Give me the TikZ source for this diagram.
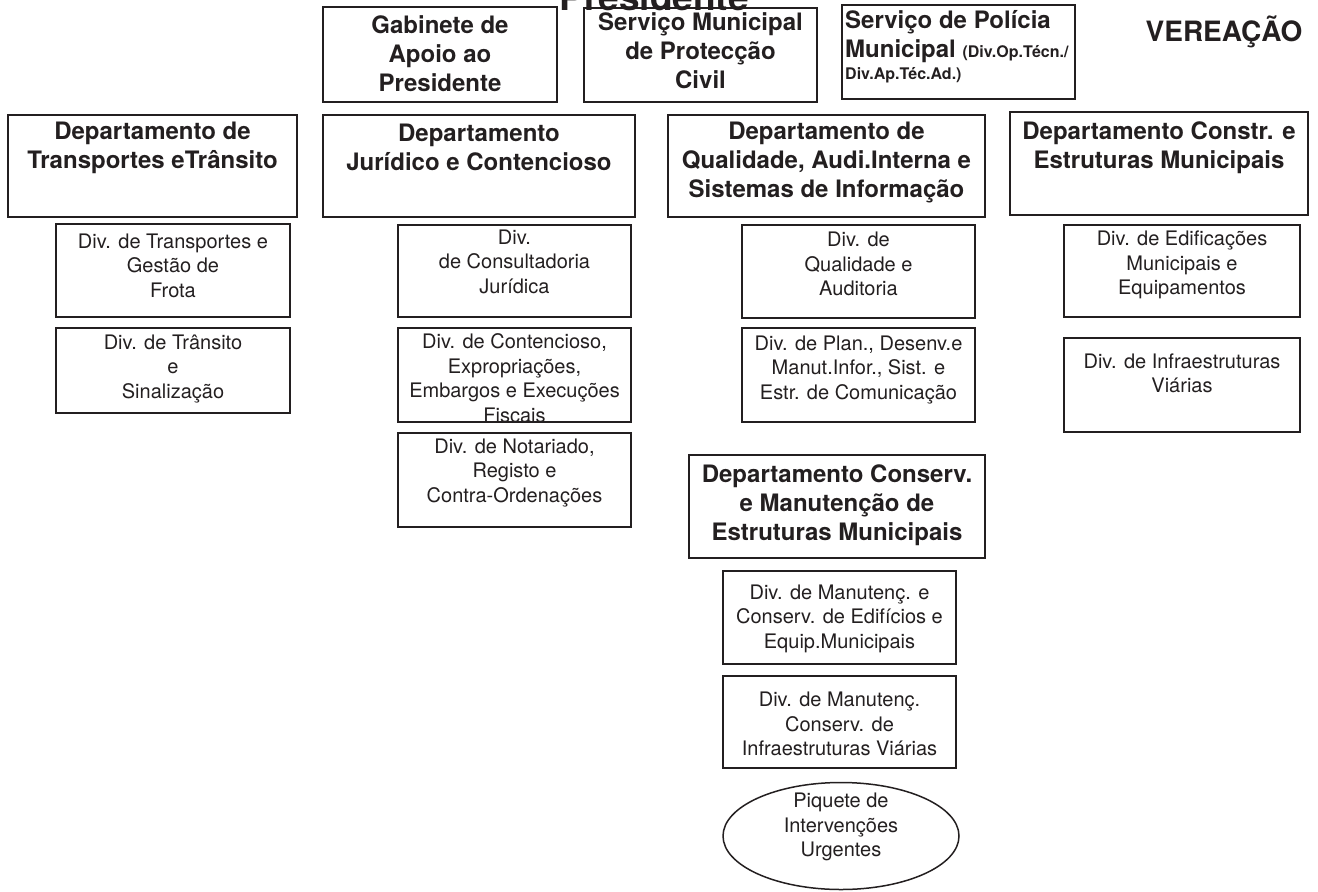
\documentclass[tikz,border=0pt]{standalone}
\usepackage{fontspec}
\setmainfont{TeX Gyre Heros}
\usetikzlibrary{shapes.geometric}

\definecolor{ink}{HTML}{231F20}

\tikzstyle{frame} = [draw, line width=1.8pt, inner sep=0pt]
\tikzstyle{divframe} = [draw, line width=1.5pt, inner sep=0pt]
\tikzstyle{head} = [font=\fontsize{24}{29}\selectfont\bfseries, align=center, inner sep=0pt]
\tikzstyle{divtext} = [font=\fontsize{20}{24.5}\selectfont, align=center, inner sep=0pt]

\begin{document}
\begin{tikzpicture}[x=1pt,y=-1pt,color=ink]
	\useasboundingbox (0,0) rectangle (1318,892);
	\node[font=\fontsize{37}{40}\selectfont\bfseries, anchor=base, inner sep=0pt] (pres) at (654,10) {Presidente};
	\node[font=\fontsize{28}{32}\selectfont\bfseries, inner sep=0pt] (ver) at (1224,32) {VEREAÇÃO};

	\node[frame, minimum width=234pt, minimum height=95pt] (gab) at (440,54.5) {};
	\node[head] (gab-t) at (440,54) {Gabinete de\\Apoio ao\\Presidente};
	\node[frame, minimum width=233pt, minimum height=94pt] (smpc) at (700.5,55) {};
	\node[head] (smpc-t) at (700.5,51) {Serviço Municipal\\de Protecção\\Civil};
	\node[frame, minimum width=233pt, minimum height=94pt] (pol) at (958.5,52) {};
	\node[head, align=left, anchor=north west] (pol-t) at (845,10) {Serviço de Polícia\\Municipal {\fontsize{16}{18}\selectfont(Div.Op.Técn./}\\[-7pt]{\fontsize{16}{18}\selectfont Div.Ap.Téc.Ad.)}};

	\node[frame, minimum width=289pt, minimum height=102pt] (dtt) at (152.5,166) {};
	\node[head] (dtt-t) at (152.5,147.5) {Departamento de\\Transportes eTrânsito};
	\node[frame, minimum width=312pt, minimum height=102pt] (djc) at (479,166) {};
	\node[head] (djc-t) at (479,147.5) {Departamento\\Jurídico e Contencioso};
	\node[frame, minimum width=317pt, minimum height=102pt] (dq) at (826.5,166) {};
	\node[head] (dq-t) at (826.5,162.5) {Departamento de\\Qualidade, Audi.Interna e\\Sistemas de Informação};
	\node[frame, minimum width=298pt, minimum height=103pt] (dc) at (1159,163.5) {};
	\node[head] (dc-t) at (1159,147.5) {Departamento Constr. e\\Estruturas Municipais};

	\node[divframe, minimum width=234pt, minimum height=93pt] (transp) at (173,270.5) {};
	\node[divtext] (transp-t) at (173,265.5) {Div. de Transportes e\\Gestão de\\Frota};
	\node[divframe, minimum width=234pt, minimum height=85pt] (transito) at (173,370.5) {};
	\node[divtext] (transito-t) at (173,368.5) {Div. de Trânsito\\e\\Sinalização};

	\node[divframe, minimum width=233pt, minimum height=92pt] (consult) at (514.5,271) {};
	\node[divtext] (consult-t) at (514.5,261.5) {Div.\\de Consultadoria\\Jurídica};
	\node[divframe, minimum width=233pt, minimum height=94pt] (cont) at (514.5,375) {};
	\begin{scope}
		\clip (398,328) rectangle (631,422);
		\node[divtext] (cont-t) at (514.5,378) {Div. de Contencioso,\\Expropriações,\\Embargos e Execuções\\Fiscais};
	\end{scope}
	\node[divframe, minimum width=233pt, minimum height=94pt] (nota) at (514.5,480) {};
	\node[divtext] (nota-t) at (514.5,473) {Div. de Notariado,\\Registo e\\Contra-Ordenações};

	\node[divframe, minimum width=233pt, minimum height=93pt] (qual) at (858.5,271.5) {};
	\node[divtext] (qual-t) at (858.5,264) {Div. de\\Qualidade e\\Auditoria};
	\node[divframe, minimum width=233pt, minimum height=94pt] (plan) at (858.5,375) {};
	\node[divtext] (plan-t) at (858.5,370) {Div. de Plan., Desenv.e\\Manut.Infor., Sist. e\\Estr. de Comunicação};

	\node[divframe, minimum width=236pt, minimum height=92pt] (edif) at (1182,271) {};
	\node[divtext] (edif-t) at (1182,265) {Div. de Edificações\\Municipais e\\Equipamentos};
	\node[divframe, minimum width=236pt, minimum height=94pt] (infra) at (1182,385) {};
	\node[divtext] (infra-t) at (1182,373.5) {Div. de Infraestruturas\\Viárias};

	\node[frame, minimum width=296pt, minimum height=103pt] (dcons) at (837,506.5) {};
	\node[head] (dcons-t) at (837,505) {Departamento Conserv.\\e Manutenção de\\Estruturas Municipais};
	\node[divframe, minimum width=233pt, minimum height=93pt] (manedif) at (839.5,617.5) {};
	\node[divtext] (manedif-t) at (839.5,618.5) {Div. de Manutenç. e\\Conserv. de Edifícios e\\Equip.Municipais};
	\node[divframe, minimum width=233pt, minimum height=92pt] (manvia) at (839.5,722) {};
	\node[divtext] (manvia-t) at (839.5,724) {Div. de Manutenç.\\Conserv. de\\Infraestruturas Viárias};
	\node[divframe, ellipse, minimum width=236pt, minimum height=107pt] (piq) at (841,836) {};
	\node[divtext] (piq-t) at (841,827) {Piquete de\\Intervenções\\Urgentes};
\end{tikzpicture}
\end{document}
